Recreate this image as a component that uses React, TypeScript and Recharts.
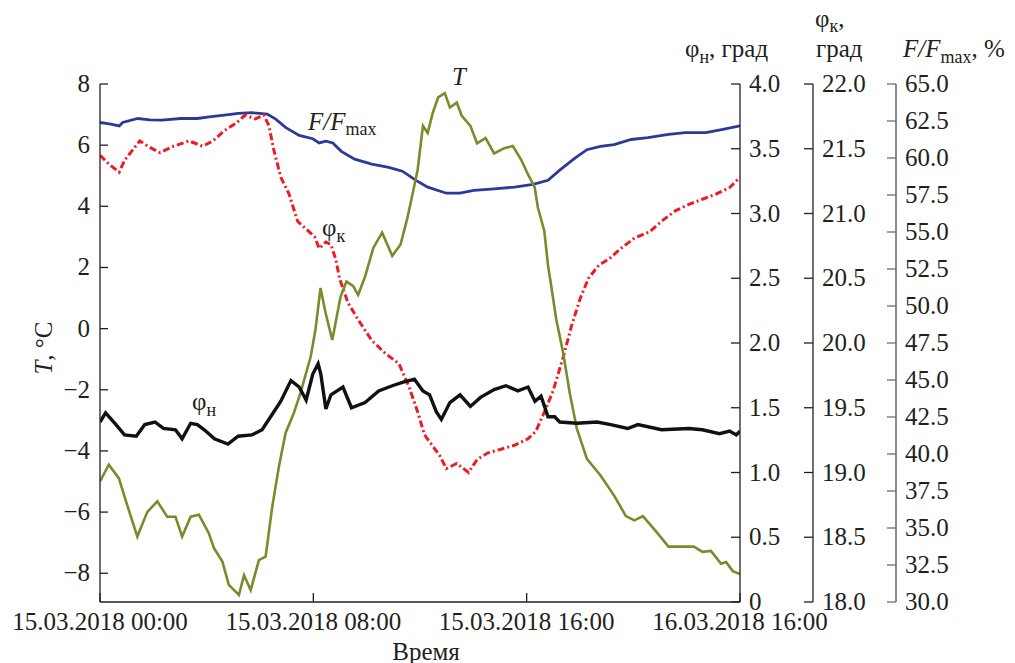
import React from 'react';
import { LineChart, Line, XAxis, YAxis } from 'recharts';

const FONT = 'Liberation Serif, Times New Roman, DejaVu Serif, serif';
const INK = '#231f20';
const GREY_AXIS = '#6d6e71';

const COLORS = {
  temp: '#7a8b2b',
  phiN: '#111111',
  phiK: '#ed1c24',
  ratio: '#2b3a98',
};

// x tick labels (equally spaced on the axis)
const X_TICKS = [0, 8, 16, 24];
const X_LABELS = ['15.03.2018 00:00', '15.03.2018 08:00', '15.03.2018 16:00', '16.03.2018 16:00'];

const T_TICKS = [-8, -6, -4, -2, 0, 2, 4, 6, 8];
const PHI_N_TICKS = [0, 0.5, 1, 1.5, 2, 2.5, 3, 3.5, 4];
const PHI_K_TICKS = [18, 18.5, 19, 19.5, 20, 20.5, 21, 21.5, 22];
const RATIO_TICKS = [30, 32.5, 35, 37.5, 40, 42.5, 45, 47.5, 50, 52.5, 55, 57.5, 60, 62.5, 65];

// T, °C
const T_HOURS = [0, 0.33, 0.71, 1.02, 1.4, 1.77, 2.15, 2.52, 2.83, 3.08, 3.4, 3.71, 4.08, 4.27, 4.59, 4.83, 5.21, 5.4, 5.65, 5.96, 6.21, 6.46, 6.71, 6.96, 7.27, 7.52, 7.9, 8.08, 8.27, 8.46, 8.71, 9.02, 9.24, 9.49, 9.68, 9.94, 10.25, 10.58, 10.96, 11.27, 11.53, 11.72, 11.91, 12.11, 12.29, 12.48, 12.68, 12.93, 13.12, 13.38, 13.56, 13.89, 14.14, 14.46, 14.78, 15.16, 15.48, 15.79, 16.04, 16.3, 16.42, 16.66, 16.8, 16.92, 17.11, 17.37, 17.62, 17.88, 18.26, 18.77, 19.28, 19.72, 20.04, 20.36, 20.81, 21.32, 21.83, 22.27, 22.59, 22.91, 23.29, 23.48, 23.73, 24];
const T_VALUES = [-5.0, -4.45, -4.9, -5.77, -6.8, -6.0, -5.65, -6.15, -6.15, -6.8, -6.15, -6.09, -6.69, -7.17, -7.62, -8.38, -8.71, -8.06, -8.55, -7.57, -7.46, -5.82, -4.51, -3.41, -2.76, -2.1, -0.92, -0.04, 1.33, 0.51, -0.37, 1.04, 1.54, 1.4, 1.1, 1.7, 2.64, 3.14, 2.38, 2.75, 3.63, 4.4, 5.19, 6.63, 6.4, 7.06, 7.56, 7.7, 7.23, 7.39, 6.97, 6.63, 6.06, 6.23, 5.73, 5.9, 5.97, 5.53, 5.06, 4.63, 3.96, 3.2, 2.07, 1.4, 0.3, -0.8, -2.13, -3.26, -4.26, -4.8, -5.46, -6.13, -6.27, -6.13, -6.59, -7.13, -7.13, -7.13, -7.3, -7.27, -7.69, -7.63, -7.93, -8.03];

// φн, град
const PHI_N_HOURS = [0, 0.21, 0.6, 0.92, 1.36, 1.68, 2.06, 2.38, 2.83, 3.08, 3.4, 3.65, 3.91, 4.29, 4.8, 5.18, 5.69, 6.08, 6.46, 6.78, 7.16, 7.47, 7.73, 7.98, 8.18, 8.28, 8.47, 8.66, 9.11, 9.43, 9.94, 10.45, 10.96, 11.4, 11.79, 12.11, 12.36, 12.61, 12.8, 13.12, 13.5, 13.89, 14.27, 14.78, 15.22, 15.67, 16.05, 16.31, 16.54, 16.8, 17.05, 17.24, 17.88, 18.64, 19.15, 19.79, 20.17, 21.06, 22.08, 22.59, 23.23, 23.61, 23.86, 24];
const PHI_N_VALUES = [1.39, 1.46, 1.37, 1.29, 1.28, 1.37, 1.39, 1.34, 1.33, 1.26, 1.38, 1.37, 1.33, 1.26, 1.22, 1.28, 1.29, 1.33, 1.45, 1.55, 1.71, 1.66, 1.56, 1.76, 1.84, 1.76, 1.49, 1.6, 1.66, 1.5, 1.54, 1.63, 1.67, 1.7, 1.72, 1.63, 1.6, 1.47, 1.41, 1.54, 1.6, 1.51, 1.58, 1.64, 1.67, 1.63, 1.66, 1.55, 1.59, 1.43, 1.43, 1.39, 1.38, 1.39, 1.37, 1.34, 1.37, 1.33, 1.34, 1.33, 1.3, 1.32, 1.29, 1.32];

// φк, град
const PHI_K_HOURS = [0, 0.34, 0.72, 0.92, 1.49, 1.87, 2.25, 2.76, 3.34, 3.85, 4.23, 4.67, 5.12, 5.44, 5.82, 6.14, 6.33, 6.52, 6.78, 7.09, 7.41, 7.73, 8.05, 8.22, 8.47, 8.66, 8.85, 8.98, 9.3, 9.68, 10.19, 10.7, 11.21, 11.59, 11.91, 12.17, 12.42, 12.74, 12.99, 13.38, 13.82, 14.14, 14.53, 15.04, 15.54, 16.05, 16.35, 16.67, 16.99, 17.37, 17.68, 18.0, 18.32, 18.7, 19.09, 19.53, 20.04, 20.62, 21.06, 21.57, 22.08, 22.59, 23.1, 23.61, 24];
const PHI_K_VALUES = [21.45, 21.38, 21.32, 21.41, 21.56, 21.51, 21.47, 21.52, 21.56, 21.52, 21.56, 21.64, 21.7, 21.76, 21.73, 21.76, 21.68, 21.49, 21.28, 21.15, 20.94, 20.88, 20.82, 20.73, 20.78, 20.76, 20.64, 20.5, 20.31, 20.18, 20.02, 19.92, 19.84, 19.66, 19.47, 19.29, 19.22, 19.13, 19.03, 19.07, 19.0, 19.1, 19.15, 19.18, 19.21, 19.26, 19.32, 19.47, 19.63, 19.89, 20.13, 20.34, 20.5, 20.6, 20.65, 20.73, 20.81, 20.86, 20.94, 21.02, 21.07, 21.11, 21.15, 21.2, 21.28];

// F/Fmax, %
const RATIO_HOURS = [0, 0.41, 0.72, 0.85, 1.42, 1.87, 2.32, 3.02, 3.65, 4.17, 4.67, 5.18, 5.69, 6.27, 6.59, 6.97, 7.47, 7.98, 8.22, 8.47, 8.73, 9.05, 9.55, 10.19, 10.83, 11.34, 11.85, 12.29, 12.99, 13.5, 14.01, 14.78, 15.54, 16.24, 16.8, 17.24, 17.81, 18.26, 18.77, 19.28, 19.92, 20.55, 21.32, 21.95, 22.72, 23.36, 24];
const RATIO_VALUES = [62.4, 62.29, 62.17, 62.4, 62.67, 62.58, 62.56, 62.67, 62.67, 62.79, 62.9, 63.02, 63.06, 62.97, 62.63, 62.05, 61.53, 61.3, 61.02, 61.14, 61.02, 60.45, 59.92, 59.59, 59.36, 59.11, 58.49, 58.03, 57.62, 57.62, 57.81, 57.92, 58.03, 58.22, 58.49, 59.18, 59.99, 60.56, 60.79, 60.91, 61.25, 61.37, 61.6, 61.71, 61.71, 61.94, 62.17];

const zip = (hours: number[], values: number[]) =>
  hours.map((h, i) => ({ h, v: values[i] }));

const tData = zip(T_HOURS, T_VALUES);
const phiNData = zip(PHI_N_HOURS, PHI_N_VALUES);
const phiKData = zip(PHI_K_HOURS, PHI_K_VALUES);
const ratioData = zip(RATIO_HOURS, RATIO_VALUES);

const TXT = { fontFamily: FONT, fontSize: 25, fill: INK };

const fmtT = (v: number) => (v < 0 ? `\u2212${Math.abs(v)}` : `${v}`);
const fmtFixed = (v: number) => (v === 0 ? '0' : v.toFixed(1));

const LeftTick = (props: any) => {
  const { x, y, payload } = props;
  return (
    <g>
      <line x1={x + 10} x2={x + 18} y1={y} y2={y} stroke={INK} strokeWidth={1.3} />
      <text x={x} y={y + 8} textAnchor="end" fontFamily={FONT} fontSize={25} fill={INK} style={TXT}>
        {fmtT(payload.value)}
      </text>
    </g>
  );
};

const makeRightTick = (color: string, fmt: (v: number) => string) => (props: any) => {
  const { x, y, payload } = props;
  return (
    <g>
      <line x1={x - 9} x2={x - 18} y1={y} y2={y} stroke={color} strokeWidth={1.3} />
      <text x={x} y={y + 8} textAnchor="start" fontFamily={FONT} fontSize={25} fill={INK} style={TXT}>
        {fmt(payload.value)}
      </text>
    </g>
  );
};

const PhiNTick = makeRightTick(INK, fmtFixed);
const PhiKTick = makeRightTick(INK, (v) => v.toFixed(1));
const RatioTick = makeRightTick(GREY_AXIS, (v) => v.toFixed(1));

const BottomTick = (props: any) => {
  const { x, y, payload } = props;
  const idx = X_TICKS.indexOf(payload.value);
  return (
    <g>
      <line x1={x} x2={x} y1={y} y2={y - 9} stroke={INK} strokeWidth={1.3} />
      <text x={x} y={y + 28} textAnchor="middle" fontFamily={FONT} fontSize={25} fill={INK} style={TXT}>
        {X_LABELS[idx]}
      </text>
    </g>
  );
};

const Sub = ({ children, size = 18, dy = 6 }: any) => (
  <tspan fontSize={size} dy={dy}>{children}</tspan>
);

export default function App() {
  return (
    <div style={{ position: 'absolute', left: 0, top: 0, width: 1015, height: 663, background: '#fff', fontFamily: FONT }}>
      <LineChart width={1015} height={663} margin={{ top: 84, right: 0, bottom: 0, left: 0 }}>
        <XAxis
          type="number"
          dataKey="h"
          domain={[0, 24]}
          ticks={X_TICKS}
          interval={0}
          height={61}
          tickSize={0}
          tickMargin={0}
          axisLine={{ stroke: INK, strokeWidth: 1.3 }}
          tickLine={false}
          tick={<BottomTick />}
          allowDataOverflow
        />
        <YAxis
          yAxisId="y0"
          orientation="left"
          width={100}
          domain={[-8.94, 8]}
          ticks={T_TICKS}
          interval={0}
          tickSize={0}
          tickMargin={10}
          axisLine={{ stroke: INK, strokeWidth: 1.3 }}
          tickLine={false}
          tick={<LeftTick />}
          allowDataOverflow
        />
        <YAxis
          yAxisId="y1"
          orientation="right"
          width={73}
          domain={[0, 4]}
          ticks={PHI_N_TICKS}
          interval={0}
          tickSize={0}
          tickMargin={9}
          axisLine={{ stroke: INK, strokeWidth: 1.3 }}
          tickLine={false}
          tick={<PhiNTick />}
        />
        <YAxis
          yAxisId="y2"
          orientation="right"
          width={83}
          domain={[18, 22]}
          ticks={PHI_K_TICKS}
          interval={0}
          tickSize={0}
          tickMargin={9}
          axisLine={{ stroke: INK, strokeWidth: 1.3 }}
          tickLine={false}
          tick={<PhiKTick />}
        />
        <YAxis
          yAxisId="y3"
          orientation="right"
          width={119}
          domain={[30, 65]}
          ticks={RATIO_TICKS}
          interval={0}
          tickSize={0}
          tickMargin={9}
          axisLine={{ stroke: GREY_AXIS, strokeWidth: 1.6 }}
          tickLine={false}
          tick={<RatioTick />}
        />
        <Line
          yAxisId="y3"
          data={ratioData}
          dataKey="v"
          type="linear"
          stroke={COLORS.ratio}
          strokeWidth={2.8}
          dot={false}
          isAnimationActive={false}
        />
        <Line
          yAxisId="y2"
          data={phiKData}
          dataKey="v"
          type="linear"
          stroke={COLORS.phiK}
          strokeWidth={3}
          strokeDasharray="7 3 2 3"
          dot={false}
          isAnimationActive={false}
        />
        <Line
          yAxisId="y0"
          data={tData}
          dataKey="v"
          type="linear"
          stroke={COLORS.temp}
          strokeWidth={2.6}
          dot={false}
          isAnimationActive={false}
        />
        <Line
          yAxisId="y1"
          data={phiNData}
          dataKey="v"
          type="linear"
          stroke={COLORS.phiN}
          strokeWidth={3.4}
          dot={false}
          isAnimationActive={false}
        />
      </LineChart>

      <svg
        width={1015}
        height={663}
        fontFamily={FONT}
        fontSize={25}
        fill={INK}
        style={{ position: 'absolute', left: 0, top: 0, pointerEvents: 'none' }}
      >
        {/* axis titles */}
        <text x={52} y={348} textAnchor="middle" transform="rotate(-90 52 348)">
          <tspan fontStyle="italic">T</tspan>, °C
        </text>
        <text x={426} y={660} textAnchor="middle">Время</text>
        <text x={685} y={57}>
          φ<Sub>н</Sub><tspan dy={-6}>, град</tspan>
        </text>
        <text x={815} y={27}>
          φ<Sub dy={5}>к</Sub><tspan dy={-5}>,</tspan>
        </text>
        <text x={816} y={57}>град</text>
        <text x={903} y={57}>
          <tspan fontStyle="italic">F/F</tspan><Sub>max</Sub><tspan dy={-6}>, %</tspan>
        </text>

        {/* series annotations */}
        <text x={308} y={130}>
          <tspan fontStyle="italic">F/F</tspan><Sub size={18} dy={5}>max</Sub>
        </text>
        <text x={452} y={85} fontStyle="italic">T</text>
        <text x={322} y={236}>
          φ<Sub>к</Sub>
        </text>
        <text x={192} y={410}>
          φ<Sub>н</Sub>
        </text>
      </svg>
    </div>
  );
}
